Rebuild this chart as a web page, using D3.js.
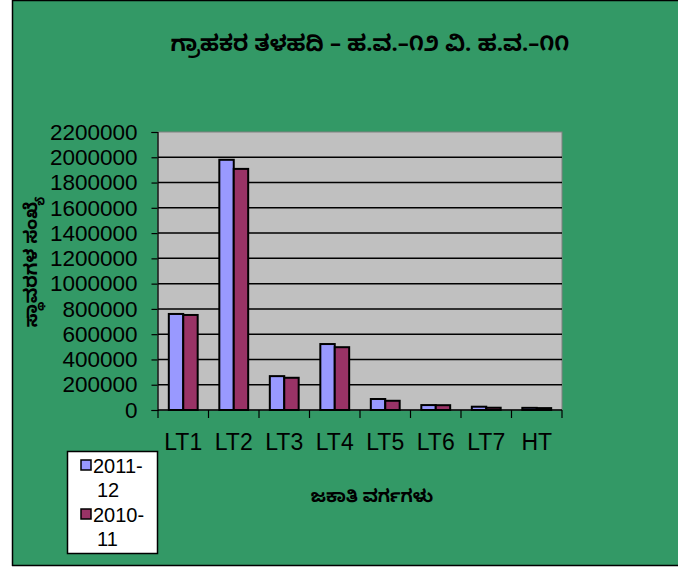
<!DOCTYPE html>
<html>
<head>
<meta charset="utf-8">
<script src="https://cdn.jsdelivr.net/npm/d3@7"></script>
<style>
  html, body { margin: 0; padding: 0; background: #ffffff; }
  svg { display: block; }
  .kn { font-family: "Noto Sans Kannada", "Noto Sans", "DejaVu Sans", sans-serif; }
  .ar { font-family: "Liberation Sans", Arial, sans-serif; }
</style>
</head>
<body>
<script>
// Tariff categories and number of installations per year
const categories = ["LT1", "LT2", "LT3", "LT4", "LT5", "LT6", "LT7", "HT"];
const values2011_12 = [760000, 1980000, 268000, 522000, 87000, 39000, 26000, 17000];
const values2010_11 = [752000, 1908000, 255000, 497000, 73000, 38000, 18000, 15000];
const seriesNames = ["2011-12", "2010-11"];
const yTicks = [0, 200000, 400000, 600000, 800000, 1000000, 1200000, 1400000, 1600000, 1800000, 2000000, 2200000];

const titleText = "ಗ್ರಾಹಕರ ತಳಹದಿ – ಹ.ವ.–೧೨ ವಿ. ಹ.ವ.–೧೧";
const yTitleText = "ಸ್ಥಾವರಗಳ ಸಂಖ್ಯೆ";
const xTitleText = "ಜಕಾತಿ ವರ್ಗಗಳು";

const W = 696, H = 569;
const colors = ["#9999ff", "#993366"];

const svg = d3.select("body").append("svg").attr("width", W).attr("height", H);

// chart area background and frame
svg.append("rect").attr("x", 12).attr("y", 0).attr("width", 666).attr("height", 566).attr("fill", "#339966");
svg.append("path").attr("d", "M12.5,566 V0.5 H678").attr("fill", "none").attr("stroke", "#000").attr("stroke-width", 1.5);
svg.append("line").attr("x1", 12).attr("x2", 678).attr("y1", 565.5).attr("y2", 565.5).attr("stroke", "#000").attr("stroke-width", 1.5);

const plot = { left: 158, right: 562, top: 132, bottom: 410 };

const x = d3.scaleBand().domain(categories).range([plot.left, plot.right]);
const y = d3.scaleLinear().domain([0, 2200000]).range([plot.bottom, plot.top]);

// plot background
svg.append("rect").attr("x", plot.left).attr("y", plot.top)
  .attr("width", plot.right - plot.left).attr("height", plot.bottom - plot.top)
  .attr("fill", "#c0c0c0").attr("stroke", "#808080").attr("stroke-width", 1);

// horizontal gridlines
svg.append("g").selectAll("line").data(yTicks.filter(d => d > 0 && d < 2200000)).join("line")
  .attr("x1", plot.left).attr("x2", plot.right)
  .attr("y1", d => y(d)).attr("y2", d => y(d))
  .attr("stroke", "#000").attr("stroke-width", 1.5);

// bars
const bw = x.bandwidth() / 3.5;
const series = [values2011_12, values2010_11];
series.forEach((vals, si) => {
  svg.append("g").selectAll("rect").data(categories).join("rect")
    .attr("x", d => x(d) + bw * 0.75 + si * bw)
    .attr("y", (d, i) => y(vals[i]))
    .attr("width", bw)
    .attr("height", (d, i) => y(0) - y(vals[i]))
    .attr("fill", colors[si])
    .attr("stroke", "#000").attr("stroke-width", 2);
});

// y axis
const yAxis = svg.append("g").attr("transform", `translate(${plot.left - 0.5},0)`)
  .call(d3.axisLeft(y).tickValues(yTicks).tickSize(6).tickPadding(14).tickFormat(d3.format("d")));
yAxis.select(".domain").attr("stroke", "#000").attr("stroke-width", 1.2);
yAxis.selectAll(".tick line").attr("stroke", "#000").attr("stroke-width", 1.2);
yAxis.selectAll("text").attr("class", "ar").attr("font-size", 22.5).attr("fill", "#000");

// x axis with boundary ticks between categories
const xg = svg.append("g");
xg.append("line").attr("x1", plot.left).attr("x2", plot.right)
  .attr("y1", plot.bottom).attr("y2", plot.bottom).attr("stroke", "#000").attr("stroke-width", 1.5);
const bounds = categories.map(d => x(d)).concat([x(categories[categories.length - 1]) + x.bandwidth()]);
xg.selectAll("line.tk").data(bounds).join("line").attr("class", "tk")
  .attr("x1", d => d).attr("x2", d => d)
  .attr("y1", plot.bottom).attr("y2", plot.bottom + 8)
  .attr("stroke", "#000").attr("stroke-width", 1.2);
xg.selectAll("text").data(categories).join("text").attr("class", "ar")
  .attr("x", d => x(d) + x.bandwidth() / 2).attr("y", 450)
  .attr("text-anchor", "middle").attr("font-size", 23).attr("fill", "#000")
  .text(d => d);

// titles
svg.append("text").attr("class", "kn").attr("x", 370).attr("y", 51)
  .attr("text-anchor", "middle").attr("font-size", 22).attr("font-weight", "bold")
  .text(titleText);
svg.append("text").attr("class", "kn").attr("x", 372).attr("y", 502)
  .attr("text-anchor", "middle").attr("font-size", 17.5).attr("font-weight", "bold")
  .text(xTitleText);
svg.append("text").attr("class", "kn")
  .attr("transform", "translate(37,262) rotate(-90)")
  .attr("text-anchor", "middle").attr("font-size", 18).attr("font-weight", "bold")
  .text(yTitleText);

// legend
const lg = svg.append("g");
lg.append("rect").attr("x", 67.5).attr("y", 451.5).attr("width", 90).attr("height", 102)
  .attr("fill", "#fff").attr("stroke", "#000").attr("stroke-width", 1.5);
seriesNames.forEach((name, i) => {
  const parts = name.split("-");
  const top = 460 + i * 49;
  lg.append("rect").attr("x", 81).attr("y", top).attr("width", 10).attr("height", 10)
    .attr("fill", colors[i]).attr("stroke", "#000").attr("stroke-width", 1.5);
  const t = lg.append("text").attr("class", "ar").attr("font-size", 20).attr("fill", "#000");
  t.append("tspan").attr("x", 93).attr("y", top + 13).text(parts[0] + "-");
  t.append("tspan").attr("x", 97).attr("y", top + 37).text(parts[1]);
});
</script>
</body>
</html>
